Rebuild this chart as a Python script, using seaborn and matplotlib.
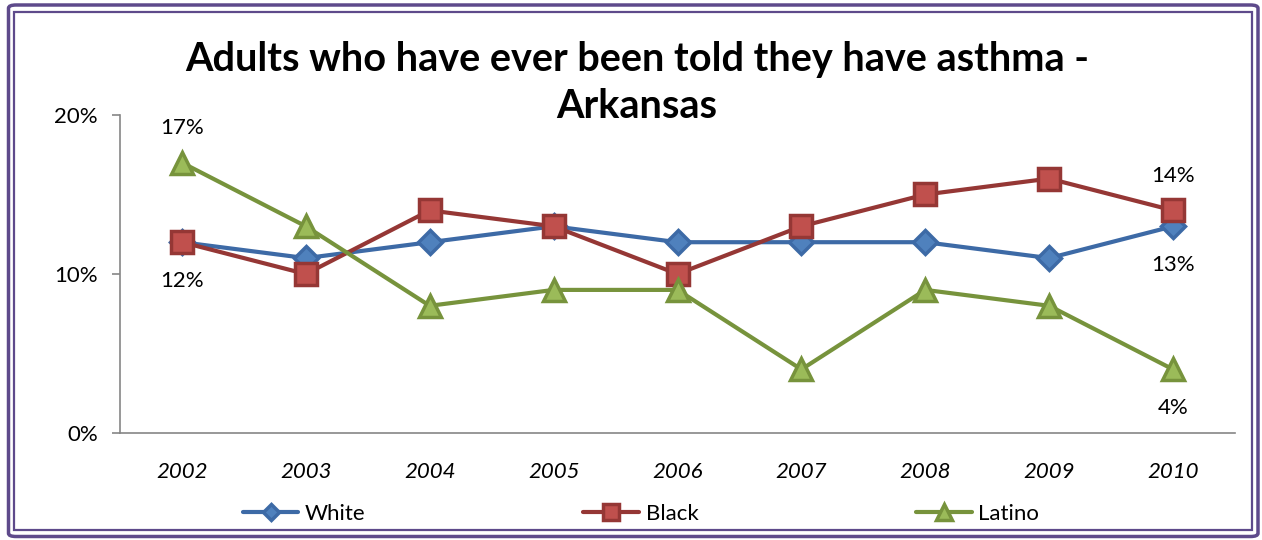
import matplotlib
matplotlib.use("Agg")
import matplotlib.pyplot as plt
import seaborn as sns
import pandas as pd
from matplotlib.patches import FancyBboxPatch, Rectangle

years = ["2002", "2003", "2004", "2005", "2006", "2007", "2008", "2009", "2010"]
white = [12, 11, 12, 13, 12, 12, 12, 11, 13]
black = [12, 10, 14, 13, 10, 13, 15, 16, 14]
latino = [17, 13, 8, 9, 9, 4, 9, 8, 4]
series_names = ["White", "Black", "Latino"]
title_lines = ["Adults who have ever been told they have asthma -", "Arkansas"]

rows = []
for name, vals in zip(series_names, [white, black, latino]):
    for i, (y, v) in enumerate(zip(years, vals)):
        rows.append({"year": y, "pos": i, "value": v / 100.0, "series": name})
df = pd.DataFrame(rows)

sns.set_theme(style="white")
plt.rcParams['font.family'] = ['Lato', 'DejaVu Sans']
plt.rcParams['text.color'] = 'black'
plt.rcParams['xtick.labelcolor'] = 'black'
plt.rcParams['ytick.labelcolor'] = 'black'

fig = plt.figure(figsize=(12.62, 5.40), dpi=100)
ax = fig.add_axes([120/1262, 1-433/540, (1235-120)/1262, (433-115)/540])

line_colors = {"White": "#3d6aa6", "Black": "#953735", "Latino": "#77933c"}
face_colors = {"White": "#4f81bd", "Black": "#c0504d", "Latino": "#9bbb59"}
markers = {"White": "D", "Black": "s", "Latino": "^"}
msizes = {"White": 12, "Black": 16, "Latino": 16}

for name in series_names:
    sub = df[df.series == name]
    sns.lineplot(data=sub, x="pos", y="value", ax=ax, color=line_colors[name],
                 linewidth=3, marker=markers[name], markersize=msizes[name],
                 markerfacecolor=face_colors[name], markeredgecolor=line_colors[name],
                 markeredgewidth=2.5, label=name, legend=False)

ax.set_xlim(-0.5, len(years) - 0.5)
ax.set_ylim(0, 0.20)
ax.set_yticks([0, 0.10, 0.20])
ax.set_yticklabels(["0%", "10%", "20%"], fontsize=16)
ax.set_xticks(range(len(years)))
ax.set_xticklabels(years, fontsize=16, style="italic")
ax.set_xticks([i - 0.5 for i in range(len(years) + 1)], minor=True)
ax.tick_params(axis="x", which="major", length=0, pad=21)
ax.tick_params(axis="x", which="minor", length=6, color="#868686", width=1.2, direction="out")
ax.tick_params(axis="y", length=6, color="#868686", width=1.2, direction="out", left=True, pad=10)
ax.set_xlabel("")
ax.set_ylabel("")
for s in ["top", "right"]:
    ax.spines[s].set_visible(False)
for s in ["left", "bottom"]:
    ax.spines[s].set_color("#868686")
    ax.spines[s].set_linewidth(1.2)
ax.grid(False)

# data labels
lab_kw = dict(fontsize=16, ha="center", va="center", color="black")
ax.annotate(f"{latino[0]}%", (0, latino[0]/100), xytext=(0, 25), textcoords="offset points", **lab_kw)
ax.annotate(f"{white[0]}%", (0, white[0]/100), xytext=(0, -28), textcoords="offset points", **lab_kw)
ax.annotate(f"{black[-1]}%", (8, black[-1]/100), xytext=(0, 25), textcoords="offset points", **lab_kw)
ax.annotate(f"{white[-1]}%", (8, white[-1]/100), xytext=(0, -28), textcoords="offset points", **lab_kw)
ax.annotate(f"{latino[-1]}%", (8, latino[-1]/100), xytext=(0, -28), textcoords="offset points", **lab_kw)

fig.text(637/1262, 1-60/540, title_lines[0], ha="center", va="center", fontsize=28.5,
         fontweight="bold", color="black")
fig.text(637/1262, 1-106/540, title_lines[1], ha="center", va="center", fontsize=28.5,
         fontweight="bold", color="black")

handles, labels = [], []
for line in ax.get_lines():
    if line.get_label() in series_names:
        handles.append(line)
        labels.append(line.get_label())
leg = fig.legend(handles, labels, loc="center", bbox_to_anchor=(641/1262, 1-514/540),
                 ncol=3, frameon=False, fontsize=16, handlelength=2.5,
                 columnspacing=9.8, handletextpad=0.3, markerscale=0.7)

# purple double border
purple = "#5e4a8b"
fig.patches.append(FancyBboxPatch((8.5/1262, 1-536.5/540), (1258-8.5)/1262, (536.5-5)/540,
                                  boxstyle="round,pad=0,rounding_size=0.006",
                                  transform=fig.transFigure, fill=False,
                                  edgecolor=purple, linewidth=2.5))
fig.patches.append(Rectangle((14/1262, 1-529.5/540), (1251.5-14)/1262, (529.5-11.5)/540,
                             transform=fig.transFigure, fill=False,
                             edgecolor=purple, linewidth=1.6))

fig.savefig("out.png", dpi=100)
